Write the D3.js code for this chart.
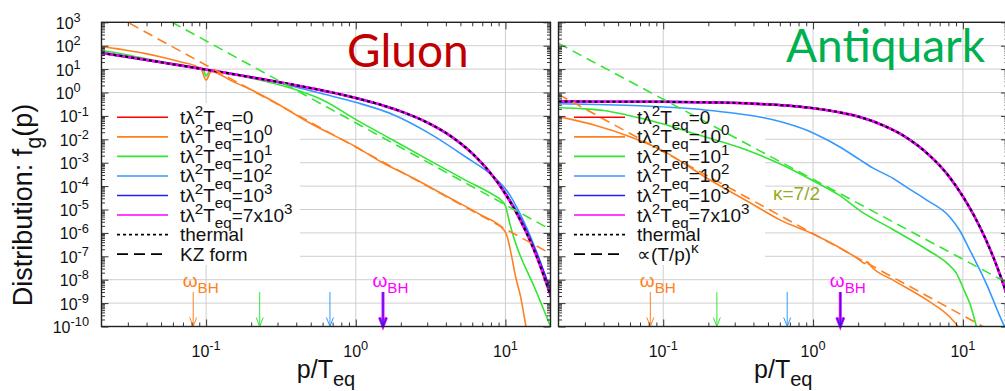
<!DOCTYPE html>
<html>
<head>
<meta charset="utf-8">
<script src="https://cdn.jsdelivr.net/npm/d3@7"></script>
<style>
  body { margin: 0; background: #fff; }
  svg { display: block; font-family: "Liberation Sans", Arial, sans-serif; }
</style>
</head>
<body>
<script>
// ---- values: [p/Teq, f] ----
const gluonOrange = [[0.02,91],[0.025,75],[0.03,62],[0.038,48],[0.05,33],[0.066,21],[0.092,10.7],[0.1,3.4],[0.108,7.8],[0.15,3.0],[0.2,1.3],[0.28,0.42],[0.5,0.047],[1,4.8e-3],[1.47,1.1e-3],[2.45,2.1e-4],[4.1,3.5e-5],[6.86,5.8e-6],[9.8,1.3e-6],[10.2,8e-7],[11,1e-7],[11.7,1.3e-8],[12.6,2e-9],[13.7,1e-10]];
const gluonGreen = [[0.02,62],[0.025,50],[0.03,40],[0.05,21],[0.08,12.5],[0.095,10],[0.1,5.1],[0.106,8.5],[0.15,6.0],[0.2,4.1],[0.385,1.4],[0.6,0.48],[1.03,0.063],[1.79,8.9e-3],[3.1,1.26e-3],[5.4,1.8e-4],[8.4,4e-5],[9.3,2.6e-5],[10,1.4e-5],[10.7,2.5e-6],[11.5,5e-7],[12.6,1e-7],[14.1,2e-8],[15.8,4e-9],[17.8,6.3e-10],[20,1e-10]];
const gluonLightBlue = [[0.02,49],[0.05,19.5],[0.1,9.4],[0.2,4.4],[0.3,2.7],[0.4,1.7],[0.6,0.88],[1,0.38],[1.8,0.11],[3.1,0.018],[5.4,1.8e-3],[8.4,2.4e-4],[10.4,5.5e-5],[12.6,6e-6],[15.8,2.2e-7],[20,3.5e-9]];
const gluonBlue = [[0.02,49],[0.03,33],[0.05,19.5],[0.08,12],[0.1,9.5],[0.15,6.2],[0.2,4.5],[0.3,2.86],[0.5,1.54],[0.7,0.99],[1,0.58],[1.5,0.287],[2,0.156],[3,0.0524],[4,0.0187],[5,6.8e-3],[6,2.5e-3],[7,9.1e-4],[8,3.4e-4],[10,5e-5],[12,7e-6],[14,1e-6],[16,1.4e-7],[18,2e-8],[20,3e-9]];
const gluonMagenta = [[0.02,49],[0.03,33],[0.05,19.5],[0.08,12],[0.1,9.5],[0.15,6.2],[0.2,4.5],[0.3,2.86],[0.5,1.54],[0.7,0.99],[1,0.58],[1.5,0.287],[2,0.156],[3,0.0524],[4,0.0187],[5,6.8e-3],[6,2.5e-3],[7,9.1e-4],[8,3.4e-4],[10,4.5e-5],[12,6.1e-6],[14,8.3e-7],[16,1.13e-7],[18,1.5e-8],[20,2.1e-9]];
const gluonThermal = [[0.02,49],[0.03,33],[0.05,19.5],[0.08,12],[0.1,9.5],[0.15,6.2],[0.2,4.5],[0.3,2.86],[0.5,1.54],[0.7,0.99],[1,0.58],[1.5,0.287],[2,0.156],[3,0.0524],[4,0.0187],[5,6.8e-3],[6,2.5e-3],[7,9.1e-4],[8,3.4e-4],[10,4.5e-5],[12,6.1e-6],[14,8.3e-7],[16,1.13e-7],[18,1.5e-8],[20,2.1e-9]];
const gluonKzOrange = [[0.02,4.1e3],[20,1.3e-7]];
const gluonKzGreen = [[0.02,4.5e4],[20,1.4e-6]];

const quarkOrange = [[0.02,0.093],[0.035,0.04],[0.06,0.013],[0.1,3.2e-3],[0.2,2e-4],[0.4,1.6e-5],[0.6,3.6e-6],[1,9e-7],[2.05,6.9e-8],[2.2,5e-8],[2.3,5.8e-8],[2.45,3.6e-8],[3.4,9.8e-9],[5.7,1.4e-9],[8.15,2.6e-10],[9.3,1e-10]];
const quarkGreen = [[0.02,0.23],[0.03,0.2],[0.04,0.17],[0.057,0.11],[0.1,0.045],[0.158,0.018],[0.36,3.5e-3],[0.6,9e-4],[1,1.7e-4],[1.5,4e-5],[2.05,9e-6],[3.41,1.4e-6],[5.7,2e-7],[8,4.5e-8],[9,2e-8],[9.5,1e-8],[10.3,3e-9],[11.1,1e-9],[12.3,1e-10]];
const quarkLightBlue = [[0.02,0.33],[0.07,0.27],[0.19,0.18],[0.3,0.13],[0.46,0.085],[0.6,0.058],[0.9,0.025],[1.2,0.0105],[1.5,4.8e-3],[2.05,1.35e-3],[2.5,6e-4],[3.4,2.2e-4],[4.2,9e-5],[5.7,2.6e-5],[8.15,4.9e-6],[9.5,1.3e-6],[11.1,1.9e-7],[14.3,7e-9],[18.5,1.4e-10],[20,5e-11]];
const quarkBlue = [[0.02,0.41],[0.05,0.405],[0.1,0.4],[0.2,0.378],[0.3,0.36],[0.5,0.31],[0.7,0.27],[1,0.214],[1.5,0.142],[2,0.094],[3,0.037],[4,0.0145],[5,5.4e-3],[6,2.0e-3],[8,2.8e-4],[10,3.6e-5],[12,4.8e-6],[14,6.5e-7],[16,8.8e-8],[18,1.2e-8],[20,1.6e-9]];
const quarkMagenta = [[0.02,0.41],[0.05,0.405],[0.1,0.4],[0.2,0.378],[0.3,0.36],[0.5,0.31],[0.7,0.27],[1,0.214],[1.5,0.142],[2,0.094],[3,0.037],[4,0.0145],[5,5.4e-3],[6,2.0e-3],[8,2.8e-4],[10,3.6e-5],[12,4.8e-6],[14,6.5e-7],[16,8.8e-8],[18,1.2e-8],[20,1.6e-9]];
const quarkThermal = [[0.02,0.41],[0.05,0.405],[0.1,0.4],[0.2,0.378],[0.3,0.36],[0.5,0.31],[0.7,0.27],[1,0.214],[1.5,0.142],[2,0.094],[3,0.037],[4,0.0145],[5,5.4e-3],[6,2.0e-3],[8,2.8e-4],[10,3.6e-5],[12,4.8e-6],[14,6.5e-7],[16,8.8e-8],[18,1.2e-8],[20,1.6e-9]];
const quarkFitOrange = [[0.02,0.83],[20,2.6e-11]];
const quarkFitGreen = [[0.02,126],[20,7e-9]];

// times t λ² Teq of the series (legend), and ω_BH arrow positions
const seriesLabels = ['0', '10^0', '10^1', '10^2', '10^3', '7x10^3'];
const seriesColors = ['#ff0000', '#ff8020', '#33e633', '#3399ff', '#2020f0', '#ff00ff'];
const bhArrowP = [0.082, 0.228, 0.672, 1.52, 1.52];
const bhArrowSeries = [1, 2, 3, 5, 4];
const bhLabelled = [0, 3];
const bhArrowTop = 3e-9;

const xTickExps = [-1, 0, 1];
const yTickExps = d3.range(3, -11, -1);

// ---- layout ----
const W = 1005, H = 391;
const plotTop = 22.3, plotBottom = 326.5;

const svg = d3.select('body').append('svg')
  .attr('width', W).attr('height', H)
  .attr('viewBox', [0, 0, W, H]);

const y = d3.scaleLog().domain([1e-10, 1e3]).range([plotBottom, plotTop]);

function rich(textSel, parts, size) {
  let cur = 0;
  parts.forEach(([s, lvl]) => {
    const target = lvl === 1 ? -0.42 * size : lvl === -1 ? 0.32 * size : 0;
    textSel.append('tspan')
      .attr('dy', target - cur)
      .attr('font-size', lvl ? size * 0.8 : size)
      .text(s);
    cur = target;
  });
  return textSel;
}

function powParts(s) {
  const [a, b] = s.split('^');
  return b === undefined ? [[a, 0]] : [[a, 0], [b, 1]];
}

const xMinor = [], yMinor = [];
for (let d = -2; d <= 1; d++) for (let k = 2; k <= 9; k++) {
  const v = k * 10 ** d;
  if (v > 0.02 && v < 20) xMinor.push(v);
}
for (let d = -10; d <= 2; d++) for (let k = 2; k <= 9; k++) yMinor.push(k * 10 ** d);

const panels = [
  {
    id: 'gluon', title: 'Gluon', titleColor: '#c00000', titleX: 347, titleY: 67,
    left: 101.5, right: 550.5, keyRight: 300, yLabels: true,
    curves: [gluonOrange, gluonGreen, gluonLightBlue, gluonBlue, gluonMagenta],
    thermal: gluonThermal,
    fits: [[gluonKzOrange, 1], [gluonKzGreen, 2]],
    fitLabel: [['KZ form', 0]],
  },
  {
    id: 'quark', title: 'Antiquark', titleColor: '#00b050', titleX: 786, titleY: 62,
    left: 558.5, right: 1008, keyRight: 765, yLabels: false,
    curves: [quarkOrange, quarkGreen, quarkLightBlue, quarkBlue, quarkMagenta],
    thermal: quarkThermal,
    fits: [[quarkFitOrange, 1], [quarkFitGreen, 2]],
    fitLabel: [['\u221d(T/p)', 0], ['\u03ba', 1]],
    kappa: true,
  },
];

function drawPanel(panel) {
  const x = d3.scaleLog().domain([0.02, 20]).range([panel.left, panel.right]);
  const g = svg.append('g');
  const w = panel.right - panel.left;
  const h = plotBottom - plotTop;

  g.append('clipPath').attr('id', `clip-${panel.id}`)
    .append('rect')
    .attr('x', panel.left).attr('y', plotTop).attr('width', w).attr('height', h);

  // grid
  const grid = g.append('g').attr('stroke', '#cfcfcf').attr('stroke-width', 1);
  grid.selectAll('line.gx').data(xTickExps).join('line')
    .attr('x1', d => x(10 ** d)).attr('x2', d => x(10 ** d))
    .attr('y1', plotTop).attr('y2', plotBottom);
  grid.selectAll('line.gy').data(yTickExps.filter(e => e < 3 && e > -10)).join('line')
    .attr('x1', panel.left).attr('x2', panel.right)
    .attr('y1', d => y(10 ** d)).attr('y2', d => y(10 ** d));

  // key background
  g.append('rect')
    .attr('x', panel.left + 1).attr('y', 103)
    .attr('width', panel.keyRight - panel.left - 1).attr('height', 162)
    .attr('fill', '#fff');

  const line = d3.line()
    .x(d => x(d[0])).y(d => y(d[1]))
    .curve(d3.curveMonotoneX);

  const data = g.append('g').attr('clip-path', `url(#clip-${panel.id})`)
    .attr('fill', 'none').attr('stroke-linejoin', 'round');

  panel.curves.forEach((c, i) => {
    data.append('path')
      .attr('d', line(c))
      .attr('stroke', seriesColors[i + 1])
      .attr('stroke-width', i === 4 ? 2.6 : i === 3 ? 2.4 : 1.6);
  });
  data.append('path')
    .attr('d', line(panel.thermal))
    .attr('stroke', '#000').attr('stroke-width', 2)
    .attr('stroke-dasharray', '3 3');
  panel.fits.forEach(([c, ci]) => {
    data.append('path')
      .attr('d', line(c))
      .attr('stroke', seriesColors[ci]).attr('stroke-width', 1.6)
      .attr('stroke-dasharray', '10 6');
  });

  // key
  const key = g.append('g');
  const rowY = i => 117.3 + i * 19.55;
  const sx1 = panel.left + 15.5, sx2 = panel.left + 66.5, tx = panel.left + 78.5;
  seriesLabels.forEach((lab, i) => {
    key.append('line')
      .attr('x1', sx1).attr('x2', sx2).attr('y1', rowY(i)).attr('y2', rowY(i))
      .attr('stroke', seriesColors[i]).attr('stroke-width', 1.6);
    const parts = [['t\u03bb', 0], ['2', 1], ['T', 0], ['eq', -1]];
    const [a, b] = ('=' + lab).split('^');
    parts.push([a, 0]);
    if (b !== undefined) parts.push([b, 1]);
    rich(key.append('text').attr('x', tx).attr('y', rowY(i) + 6.5).attr('fill', '#111'), parts, 19);
  });
  key.append('line')
    .attr('x1', sx1).attr('x2', sx2).attr('y1', rowY(6)).attr('y2', rowY(6))
    .attr('stroke', '#000').attr('stroke-width', 1.6).attr('stroke-dasharray', '3 3');
  rich(key.append('text').attr('x', tx).attr('y', rowY(6) + 6.5).attr('fill', '#111'), [['thermal', 0]], 19);
  key.append('line')
    .attr('x1', sx1).attr('x2', sx2).attr('y1', rowY(7)).attr('y2', rowY(7))
    .attr('stroke', '#000').attr('stroke-width', 1.6).attr('stroke-dasharray', '11 6');
  rich(key.append('text').attr('x', tx).attr('y', rowY(7) + 6.5).attr('fill', '#111'), panel.fitLabel, 19);

  // omega_BH arrows
  const arrows = g.append('g').attr('fill', 'none');
  bhArrowP.forEach((p, i) => {
    const ax = x(p), y0 = y(bhArrowTop), y1 = plotBottom;
    const s = bhArrowSeries[i];
    arrows.append('path')
      .attr('d', `M${ax},${y0}V${y1}M${ax - 3.5},${y1 - 9}L${ax},${y1}L${ax + 3.5},${y1 - 9}`)
      .attr('stroke', seriesColors[s])
      .attr('stroke-width', s === 5 ? 3 : s === 4 ? 1.2 : 1);
  });
  bhLabelled.forEach(i => {
    rich(g.append('text')
      .attr('x', x(bhArrowP[i]) - 10.5).attr('y', y(bhArrowTop) - 5)
      .attr('fill', seriesColors[bhArrowSeries[i]]), [['\u03c9', 0], ['BH', -1]], 19);
  });

  // frame and ticks
  const axes = g.append('g');
  const tickAxis = (gen, vals, len, tr) => {
    const a = axes.append('g').attr('transform', tr)
      .call(gen.tickValues(vals).tickSize(-len).tickFormat(''));
    a.select('.domain').remove();
    a.selectAll('line').attr('stroke', '#333').attr('stroke-width', 1);
  };
  const xMajor = xTickExps.map(e => 10 ** e);
  const yMajor = yTickExps.map(e => 10 ** e);
  tickAxis(d3.axisBottom(x), xMajor, 7, `translate(0,${plotBottom})`);
  tickAxis(d3.axisBottom(x), xMinor, 4, `translate(0,${plotBottom})`);
  tickAxis(d3.axisTop(x), xMajor, 7, `translate(0,${plotTop})`);
  tickAxis(d3.axisTop(x), xMinor, 4, `translate(0,${plotTop})`);
  tickAxis(d3.axisLeft(y), yMajor, 7, `translate(${panel.left},0)`);
  tickAxis(d3.axisLeft(y), yMinor, 3.5, `translate(${panel.left},0)`);
  tickAxis(d3.axisRight(y), yMajor, 7, `translate(${panel.right},0)`);
  tickAxis(d3.axisRight(y), yMinor, 3.5, `translate(${panel.right},0)`);

  axes.append('rect')
    .attr('x', panel.left).attr('y', plotTop).attr('width', w).attr('height', h)
    .attr('fill', 'none').attr('stroke', '#222').attr('stroke-width', 1.4);

  // tick labels
  xTickExps.forEach(e => {
    rich(g.append('text')
      .attr('x', x(10 ** e)).attr('y', 357)
      .attr('text-anchor', 'middle').attr('fill', '#111'),
      powParts(`10^${e}`), 16);
  });
  if (panel.yLabels) {
    yTickExps.forEach(e => {
      rich(g.append('text')
        .attr('x', panel.left - (e < 0 ? 12.5 : 20.8)).attr('y', y(10 ** e) + 6.5)
        .attr('text-anchor', 'end').attr('fill', '#111'),
        powParts(`10^${e}`), 16);
    });
    rich(g.append('text')
      .attr('transform', `translate(32,205) rotate(-90)`)
      .attr('text-anchor', 'middle').attr('fill', '#111'),
      [['Distribution: f', 0], ['g', -1], ['(p)', 0]], 27);
  }
  rich(g.append('text')
    .attr('x', (panel.left + panel.right) / 2).attr('y', 378)
    .attr('text-anchor', 'middle').attr('fill', '#111'),
    [['p/T', 0], ['eq', -1]], 25);

  // panel title
  g.append('text')
    .attr('x', panel.titleX).attr('y', panel.titleY)
    .attr('font-family', 'Lato, "Open Sans", sans-serif')
    .attr('font-size', 46)
    .attr('fill', panel.titleColor)
    .text(panel.title);

  if (panel.kappa) {
    g.append('text')
      .attr('x', 773).attr('y', 200)
      .attr('font-size', 19).attr('fill', '#99aa22')
      .text('\u03ba=7/2');
  }
}

panels.forEach(drawPanel);
</script>
</body>
</html>
